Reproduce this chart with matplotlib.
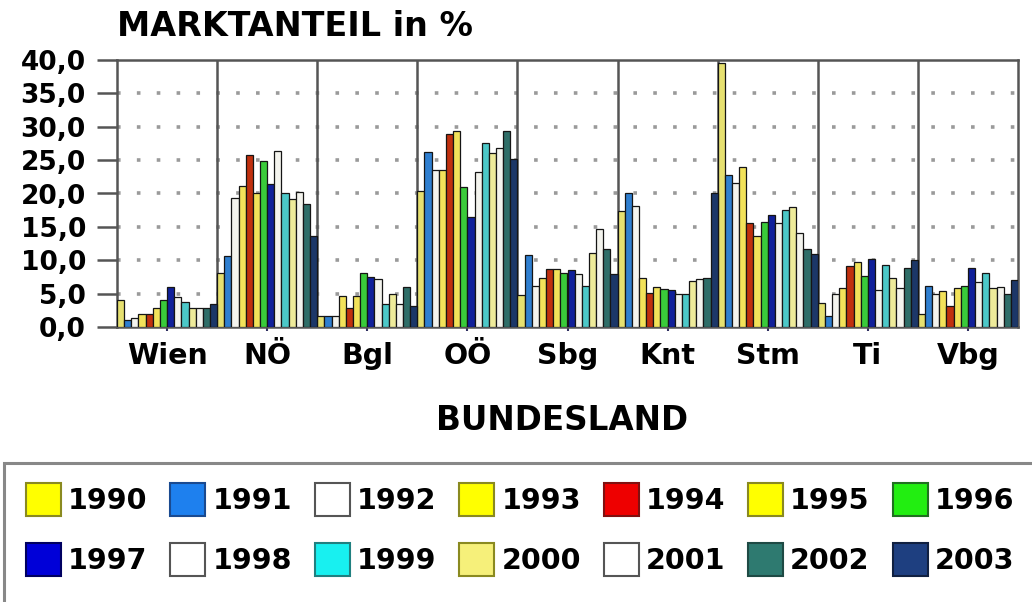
import matplotlib.pyplot as plt
import matplotlib.patches as mpatches
import numpy as np

plt.rcParams['font.family'] = 'DejaVu Sans'
plt.rcParams['font.weight'] = 'bold'

laender = ['Wien', 'NÖ', 'Bgl', 'OÖ', 'Sbg', 'Knt', 'Stm', 'Ti', 'Vbg']
jahre = ['1990', '1991', '1992', '1993', '1994', '1995', '1996',
         '1997', '1998', '1999', '2000', '2001', '2002', '2003']

# Marktanteil in % je Bundesland, 1990..2003
wien = [4.0, 1.1, 1.4, 2.0, 1.9, 2.9, 4.1, 6.0, 4.5, 3.7, 2.9, 2.9, 2.9, 3.4]
noe = [8.1, 10.6, 19.4, 21.1, 25.7, 20.1, 24.9, 21.4, 26.4, 20.1, 19.2, 20.2, 18.5, 13.7]
bgl = [1.7, 1.7, 1.7, 4.6, 2.9, 4.6, 8.1, 7.5, 7.2, 3.4, 5.0, 3.4, 6.0, 3.1]
ooe = [20.3, 26.2, 23.5, 23.5, 28.9, 29.4, 20.9, 16.5, 23.2, 27.6, 26.0, 26.8, 29.3, 25.1]
sbg = [4.8, 10.8, 6.1, 7.4, 8.7, 8.7, 8.1, 8.5, 8.0, 6.2, 11.1, 14.7, 11.7, 7.9]
knt = [17.4, 20.0, 18.1, 7.4, 5.1, 6.0, 5.7, 5.6, 5.0, 4.9, 6.9, 7.2, 7.4, 20.1]
stm = [39.6, 22.8, 21.6, 23.9, 15.6, 13.6, 15.8, 16.8, 15.6, 17.6, 18.0, 14.1, 11.7, 10.9]
ti = [3.6, 1.7, 4.9, 5.9, 9.1, 9.7, 7.7, 10.2, 5.5, 9.3, 7.3, 5.8, 8.8, 10.1]
vbg = [1.9, 6.2, 5.0, 5.4, 3.1, 5.9, 6.1, 8.8, 6.7, 8.1, 5.9, 6.0, 5.0, 7.0]

# Legendenfarben und etwas gedecktere Balkenfarben
farben = ['#FFFF00', '#1E80EE', '#FFFFFF', '#FFFF00', '#EE0000', '#FFFF00', '#22EE11',
          '#0000D8', '#FFFFFF', '#18F0F0', '#F6F07A', '#FFFFFF', '#2E7A70', '#1E3F80']
kanten = ['#8A8A20', '#1A4A90', '#555555', '#8A8A20', '#801010', '#8A8A20', '#207020',
          '#000060', '#555555', '#208080', '#8A8A20', '#555555', '#1E4A44', '#102040']
balken = ['#E6E070', '#2F7FD0', '#F4F4EE', '#F2E25A', '#C0300E', '#F2E25A', '#3ACB3A',
          '#10209A', '#F4F4EE', '#4CC8C8', '#EEEB9A', '#F4F4EE', '#2F6E68', '#1C3768']

werte = np.array([wien, noe, bgl, ooe, sbg, knt, stm, ti, vbg])
n_gr, n_j = werte.shape

fig = plt.figure(figsize=(10.32, 6.02), dpi=100)
W, H = 1032, 602
ax = fig.add_axes([117 / W, 1 - 327 / H, (1018 - 117) / W, (327 - 60) / H])

x = np.arange(n_gr)
b = 1.0 / n_j
handles = []
for j in range(n_j):
    ax.bar(x - 0.5 + (j + 0.5) * b, werte[:, j], width=b,
           color=balken[j], edgecolor='#151515', linewidth=0.9, zorder=3)
    handles.append(mpatches.Patch(facecolor=farben[j], edgecolor=kanten[j],
                                  linewidth=1.5, label=jahre[j]))

ax.set_xlim(-0.5, n_gr - 0.5)
ax.set_ylim(0, 40)
ax.set_yticks(np.arange(0, 41, 5))
ax.set_yticklabels(['{:.1f}'.format(v).replace('.', ',') for v in np.arange(0, 41, 5)])
ax.set_xticks(x)
ax.set_xticklabels(laender)

# gepunktete Hilfslinien und Trennlinien zwischen den Bundesländern
for v in range(5, 40, 5):
    ax.axhline(v, color='#9A9A9A', linestyle=(0, (1, 4.5)), linewidth=2.6, zorder=1)
for g in range(1, n_gr):
    ax.axvline(g - 0.5, color='#555555', linewidth=1.8, zorder=2)

for s in ax.spines.values():
    s.set_color('#555555')
    s.set_linewidth(1.8)

ax.tick_params(axis='y', direction='out', length=14.4, width=1.8, color='#555555',
               pad=8, labelsize=19)
ax.tick_params(axis='x', length=3, width=1.5, color='#303060', pad=8, labelsize=20.5)

fig.text(117 / W, 1 - 26 / H, 'MARKTANTEIL in %', fontsize=24, fontweight='bold',
         ha='left', va='center')
fig.text(562 / W, 1 - 420 / H, 'BUNDESLAND', fontsize=23.5, fontweight='bold',
         ha='center', va='center')

# Rahmen der Legende
fig.patches.append(mpatches.Rectangle((4 / W, -0.05), 1.1, 1 - 463 / H + 0.05,
                                      transform=fig.transFigure, fill=False,
                                      edgecolor='#888888', linewidth=2.2))

# Legende zeilenweise füllen (matplotlib füllt spaltenweise)
ncol = 7
reihen = [handles[:ncol], handles[ncol:]]
geordnet = [h for paar in zip(*reihen) for h in paar]

fig.legend(handles=geordnet, ncol=ncol, loc='upper left',
           bbox_to_anchor=(26 / W, 1 - 483 / H), frameon=False,
           handlelength=1.23, handleheight=1.4,
           handletextpad=0.25, columnspacing=0.8, labelspacing=0.95,
           borderpad=0, borderaxespad=0, prop={'weight': 'bold', 'size': 20.5})

fig.savefig('out.png', dpi=100)
